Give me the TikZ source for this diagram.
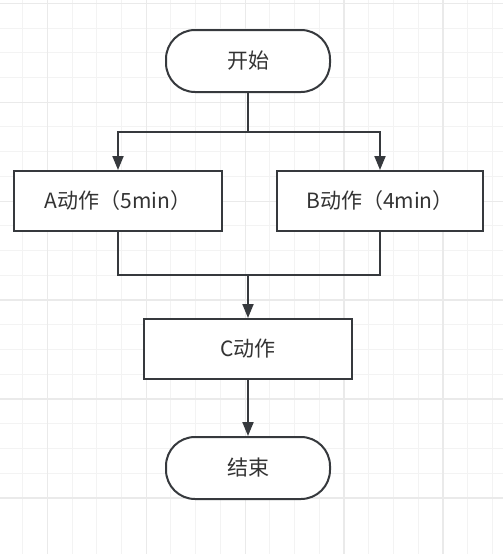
\documentclass[tikz,border=0pt]{standalone}
\usepackage{fontspec}
\setmainfont{Noto Sans CJK SC}
\usetikzlibrary{arrows.meta}
\definecolor{stroke}{HTML}{36393D}
\definecolor{txt}{HTML}{333333}
\definecolor{gridminor}{HTML}{F3F3F3}
\definecolor{gridmajor}{HTML}{EAEAEA}
\tikzset{
  terminal/.style={draw=stroke, line width=2pt, fill=white, rounded corners=29pt,
    minimum width=164pt, minimum height=62pt, inner sep=0pt, text=txt, font=\fontsize{21}{25}\selectfont},
  process/.style={draw=stroke, line width=2pt, fill=white,
    minimum width=208pt, minimum height=60pt, inner sep=0pt, text=txt, font=\fontsize{21}{25}\selectfont},
  link/.style={draw=stroke, line width=2pt},
  arrowlink/.style={link, -{Triangle[length=14pt,width=11pt]}}
}
\begin{document}
\begin{tikzpicture}[x=1pt,y=-1pt]
\useasboundingbox (0,0) rectangle (503,554);
\fill[white] (0,0) rectangle (503,554);
% grid minor
\foreach \i in {-1,...,20} {
  \draw[gridminor, line width=1pt] ({47.3+24.73*\i},0) -- ({47.3+24.73*\i},554);
  \draw[gridminor, line width=1pt] (0,{3.3+24.73*\i}) -- (503,{3.3+24.73*\i});
}
% grid major
\foreach \i in {-1,...,5} {
  \draw[gridmajor, line width=1.2pt] ({47.3+98.92*\i},0) -- ({47.3+98.92*\i},554);
  \draw[gridmajor, line width=1.2pt] (0,{3.3+98.92*\i}) -- (503,{3.3+98.92*\i});
}
% nodes
\node[terminal] (start) at (248,61) {开始};
\node[process] (A) at (118,201) {A动作（5min）};
\node[process, minimum width=206pt] (B) at (380,201) {B动作（4min）};
\node[process] (C) at (248,349) {C动作};
\node[terminal] (end) at (248,468) {结束};
\coordinate (j1) at (248,132);
\coordinate (j2) at (248,275);
% connectors
\draw[link] (start.south) -- (j1);
\draw[arrowlink] (j1) -| (A.north);
\draw[arrowlink] (j1) -| (B.north);
\draw[link] (A.south) |- (j2);
\draw[link] (B.south) |- (j2);
\draw[arrowlink] (j2) -- (C.north);
\draw[arrowlink] (C.south) -- (end.north);
\end{tikzpicture}
\end{document}
